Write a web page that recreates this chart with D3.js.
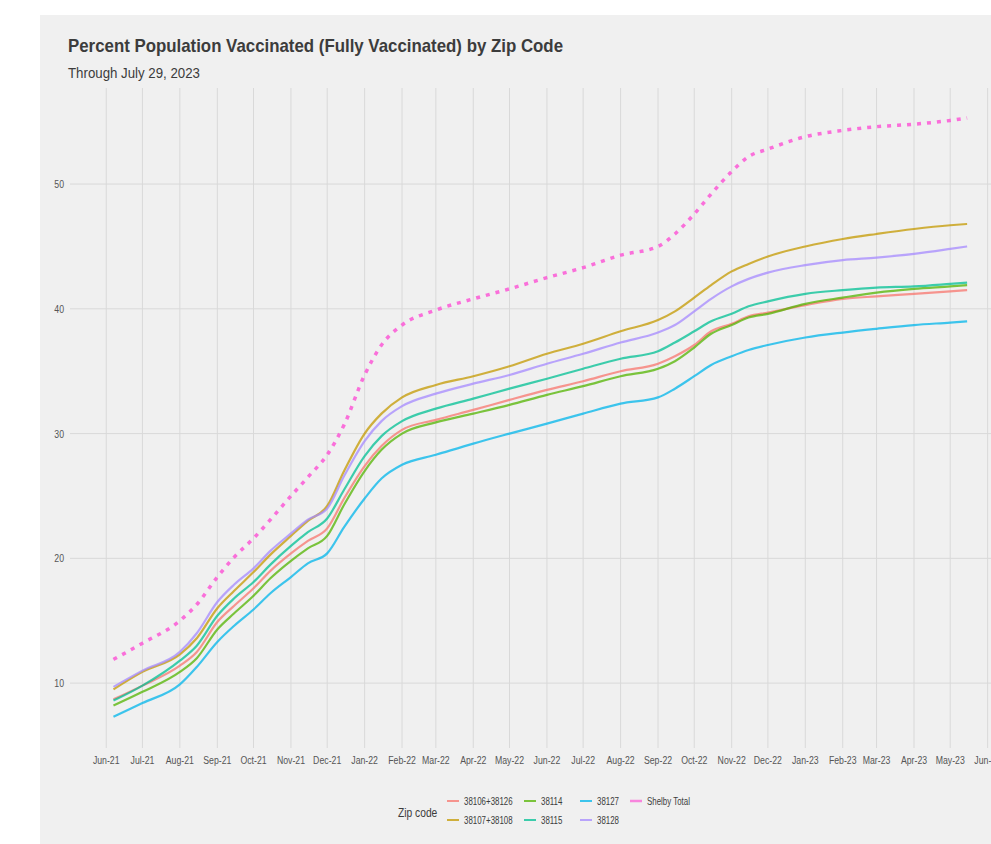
<!DOCTYPE html>
<html>
<head>
<meta charset="utf-8">
<script src="https://cdn.jsdelivr.net/npm/d3@7"></script>
<style>
  body { margin: 0; background: #fff; }
  text { font-family: "Liberation Sans", Arial, sans-serif; }
</style>
</head>
<body>
<script>
// Sample dates (roughly every two weeks / month)
var dates = ["2021-06-07","2021-07-01","2021-08-01","2021-08-15","2021-09-01","2021-09-15",
  "2021-10-01","2021-10-15","2021-11-01","2021-11-15","2021-12-01","2021-12-15",
  "2022-01-01","2022-01-15","2022-02-01","2022-03-01","2022-04-01","2022-05-01",
  "2022-06-01","2022-07-01","2022-08-01","2022-09-01","2022-09-15","2022-10-01",
  "2022-10-15","2022-11-01","2022-11-15","2022-12-01","2023-01-01","2023-02-01",
  "2023-03-01","2023-04-01","2023-05-01","2023-05-15"];

var zipCodes = ["38106+38126","38107+38108","38114","38115","38127","38128","Shelby Total"];
var zipColors = ["#F8766D","#C49A00","#53B400","#00C094","#00B6EB","#A58AFF","#FB61D7"];

var z38106 = [8.7,9.8,11.4,12.5,14.9,16.2,17.6,19.0,20.4,21.4,22.4,24.8,27.4,29.0,30.3,31.1,31.9,32.7,
  33.5,34.2,35.0,35.6,36.2,37.1,38.2,38.8,39.4,39.7,40.3,40.8,41.0,41.2,41.4,41.5];
var z38107 = [9.5,10.9,12.3,13.6,16.0,17.4,18.9,20.3,21.8,23.0,24.2,27.0,30.0,31.6,32.9,33.9,34.6,35.4,
  36.4,37.2,38.2,39.1,39.8,40.9,41.9,43.0,43.6,44.2,45.0,45.6,46.0,46.4,46.7,46.8];
var z38114 = [8.2,9.3,10.9,12.0,14.3,15.6,17.0,18.4,19.8,20.8,21.8,24.3,27.0,28.7,30.0,30.9,31.6,32.3,
  33.1,33.8,34.6,35.2,35.8,36.9,38.0,38.7,39.3,39.6,40.4,40.9,41.3,41.6,41.8,41.9];
var z38115 = [8.6,9.8,11.8,13.0,15.4,16.8,18.1,19.5,21.0,22.1,23.2,25.5,28.2,29.8,31.0,32.0,32.8,33.6,
  34.4,35.2,36.0,36.6,37.3,38.2,39.0,39.6,40.2,40.6,41.2,41.5,41.7,41.8,42.0,42.1];
var z38127 = [7.3,8.4,9.9,11.3,13.3,14.6,15.9,17.2,18.5,19.6,20.4,22.5,24.8,26.4,27.5,28.3,29.2,30.0,
  30.8,31.6,32.4,32.9,33.6,34.6,35.5,36.2,36.7,37.1,37.7,38.1,38.4,38.7,38.9,39.0];
var z38128 = [9.7,11.0,12.5,14.0,16.5,17.9,19.2,20.6,22.0,23.1,24.0,26.6,29.4,31.0,32.2,33.2,34.0,34.7,
  35.6,36.4,37.3,38.1,38.7,39.8,40.8,41.8,42.4,42.9,43.5,43.9,44.1,44.4,44.8,45.0];
var shelby = [11.9,13.2,15.0,16.3,18.5,20.1,21.6,23.1,25.0,26.5,28.3,30.7,34.7,37.1,38.7,39.9,40.8,41.6,
  42.5,43.3,44.3,45.0,46.0,47.6,49.2,51.0,52.2,52.8,53.8,54.3,54.6,54.8,55.1,55.3];

var seriesValues = [z38106, z38107, z38114, z38115, z38127, z38128, shelby];

var yTicks = [10, 20, 30, 40, 50];

var W = 991, H = 844;
var parse = d3.timeParse("%Y-%m-%d");

var svg = d3.select("body").append("svg")
  .attr("width", W).attr("height", H);

svg.append("rect").attr("x", 0).attr("y", 0).attr("width", W).attr("height", H).attr("fill", "#fff");
svg.append("rect").attr("x", 40).attr("y", 15).attr("width", W - 40).attr("height", H - 15).attr("fill", "#F0F0F0");

var x = d3.scaleTime()
  .domain([parse("2021-05-02"), parse("2023-06-22")])
  .range([70, 1013]);
var y = d3.scaleLinear()
  .domain([4.8, 57.7])
  .range([748, 88]);

var squish = 0.76;

// gridlines
var monthTicks = d3.timeMonth.range(parse("2021-06-01"), parse("2023-06-02"));
svg.append("g").selectAll("line").data(monthTicks).enter().append("line")
  .attr("x1", d => x(d)).attr("x2", d => x(d))
  .attr("y1", 88).attr("y2", 748)
  .attr("stroke", "#D9D9D9").attr("stroke-width", 1);
svg.append("g").selectAll("line").data(yTicks).enter().append("line")
  .attr("x1", 70).attr("x2", W)
  .attr("y1", d => y(d)).attr("y2", d => y(d))
  .attr("stroke", "#D9D9D9").attr("stroke-width", 1);

// tick labels (the last one runs off the right edge, as in the original)
var fmt = d3.timeFormat("%b-%y");
svg.append("g").selectAll("text").data(monthTicks).enter().append("text")
  .attr("transform", d => "translate(" + x(d) + ",764) scale(" + squish + ",1)")
  .attr("text-anchor", "middle")
  .attr("font-size", 11.5).attr("fill", "#555")
  .text(d => fmt(d));
svg.append("g").selectAll("text").data(yTicks).enter().append("text")
  .attr("transform", d => "translate(64," + (y(d) + 4) + ") scale(" + squish + ",1)")
  .attr("text-anchor", "end")
  .attr("font-size", 11.5).attr("fill", "#555")
  .text(d => d);

// lines
var line = d3.line()
  .x(d => x(d.date))
  .y(d => y(d.value))
  .curve(d3.curveMonotoneX);

var series = zipCodes.map(function(name, i) {
  return {
    name: name,
    color: zipColors[i],
    points: dates.map(function(d, j) { return { date: parse(d), value: seriesValues[i][j] }; })
  };
});

svg.append("g").selectAll("path").data(series).enter().append("path")
  .attr("d", d => line(d.points))
  .attr("fill", "none")
  .attr("stroke", d => d.color)
  .attr("stroke-opacity", d => d.name === "Shelby Total" ? 0.9 : 0.75)
  .attr("stroke-width", d => d.name === "Shelby Total" ? 3.5 : 2.2)
  .attr("stroke-dasharray", d => d.name === "Shelby Total" ? "4 6" : null);

// title and subtitle
svg.append("text")
  .attr("x", 68).attr("y", 52)
  .attr("font-size", 19).attr("font-weight", "bold").attr("fill", "#3C3C3C")
  .attr("textLength", 495).attr("lengthAdjust", "spacingAndGlyphs")
  .text("Percent Population Vaccinated (Fully Vaccinated) by Zip Code");
svg.append("text")
  .attr("x", 68).attr("y", 78)
  .attr("font-size", 14.5).attr("fill", "#3C3C3C")
  .attr("textLength", 132).attr("lengthAdjust", "spacingAndGlyphs")
  .text("Through July 29, 2023");

// legend
var legend = svg.append("g");
legend.append("text")
  .attr("transform", "translate(398,817) scale(" + squish + ",1)")
  .attr("font-size", 13.5).attr("fill", "#3C3C3C")
  .text("Zip code");

var colX = [447, 524, 580, 630];
var rowY = [801, 820];
// legend is filled column by column: 4 columns, 2 rows
series.forEach(function(s, i) {
  var col = Math.floor(i / 2), row = i % 2;
  var kx = colX[col], ky = rowY[row];
  legend.append("line")
    .attr("x1", kx).attr("x2", kx + 12)
    .attr("y1", ky).attr("y2", ky)
    .attr("stroke", s.color)
    .attr("stroke-opacity", 0.75)
    .attr("stroke-width", s.name === "Shelby Total" ? 2.5 : 2);
  legend.append("text")
    .attr("transform", "translate(" + (kx + 17) + "," + (ky + 4) + ") scale(0.72,1)")
    .attr("font-size", 11).attr("fill", "#3C3C3C")
    .text(s.name);
});
</script>
</body>
</html>
